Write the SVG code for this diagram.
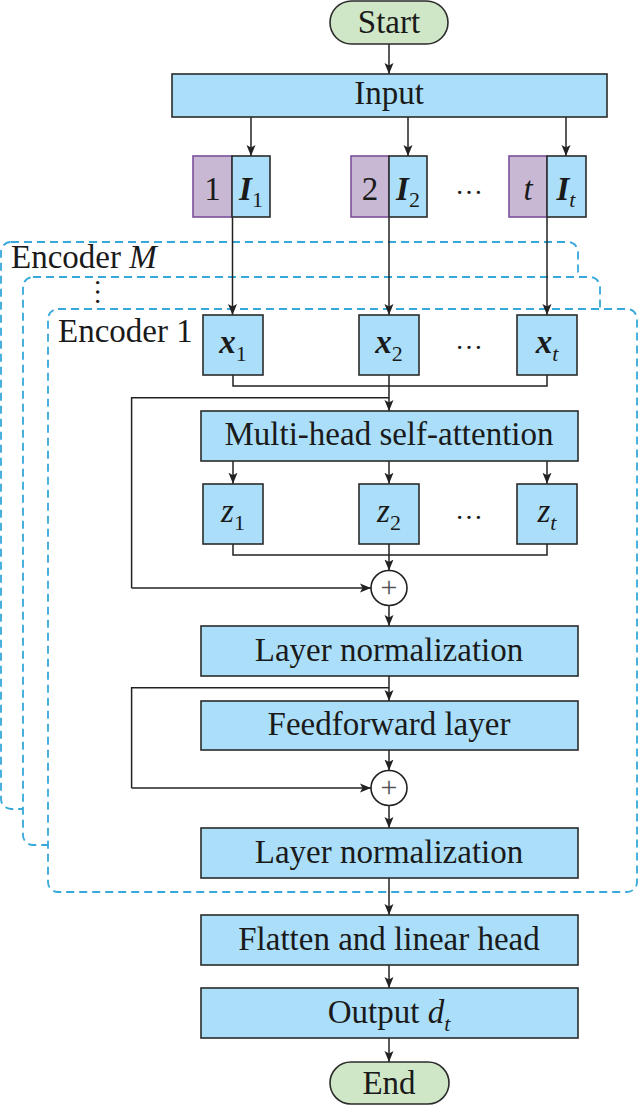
<svg xmlns="http://www.w3.org/2000/svg" width="639" height="1107" viewBox="0 0 639 1107">
<style>
text{font-family:"Liberation Serif","Times New Roman",serif;font-size:33px;fill:#1a1a1a}
.c{text-anchor:middle}
.blue{fill:#abdff9;stroke:#2b2b2b;stroke-width:1.6}
.pur{fill:#c9b8d4;stroke:#7a4f9c;stroke-width:1.6}
.green{fill:#cfe7c6;stroke:#2b2b2b;stroke-width:1.6}
.dash{fill:#fff;stroke:#36a8da;stroke-width:1.8;stroke-dasharray:8 5}
.ln{fill:none;stroke:#222;stroke-width:1.5}
.arr{fill:none;stroke:#222;stroke-width:1.5;marker-end:url(#ah)}
.sub{font-size:22px}
.bi{font-weight:bold;font-style:italic}
.it{font-style:italic}
.dots{font-size:28px}
</style>
<defs>
<marker id="ah" markerWidth="11" markerHeight="11" refX="11" refY="5" orient="auto" markerUnits="userSpaceOnUse">
<path d="M0,0.5 L11,5 L0,9.5 L2.5,5 z" fill="#222"/>
</marker>
</defs>

<g id="encoder-frames">
<rect class="dash" x="1" y="242" width="577" height="567" rx="10"/>
<rect class="dash" x="23" y="277" width="577" height="568" rx="10"/>
<rect class="dash" x="48" y="309" width="589" height="583" rx="10"/>
<text x="11" y="268">Encoder <tspan class="it">M</tspan></text>
<text x="96.7" y="292" class="dots" text-anchor="middle" transform="translate(8.5,0) rotate(90 96.7 292)" style="dominant-baseline:central">…</text>
<text x="58" y="342">Encoder 1</text>
</g>

<g id="connectors">
<path class="arr" d="M389,44 V74"/>
<path class="arr" d="M251,117 V156"/>
<path class="arr" d="M408,117 V156"/>
<path class="arr" d="M566,117 V156"/>
<path class="arr" d="M232.5,217 V315"/>
<path class="arr" d="M389,217 V315"/>
<path class="arr" d="M547,217 V315"/>
<path class="ln" d="M233,375 V386 H547 V375 M389,375 V386"/>
<path class="arr" d="M389,386 V411"/>
<path class="ln" d="M389,397.7 H131.6 V588"/>
<path class="arr" d="M131.6,588 H371"/>
<path class="arr" d="M233,461 V483.7"/>
<path class="arr" d="M389,461 V483.7"/>
<path class="arr" d="M547,461 V483.7"/>
<path class="ln" d="M233,544 V555 H547 V544 M389,544 V555"/>
<path class="arr" d="M389,555 V570.5"/>
<path class="arr" d="M389,605.5 V626"/>
<path class="arr" d="M389,676 V701"/>
<path class="ln" d="M389,687.7 H131.6 V788"/>
<path class="arr" d="M131.6,788 H371"/>
<path class="arr" d="M389,750 V770.5"/>
<path class="arr" d="M389,805.5 V828"/>
<path class="arr" d="M389,878 V915"/>
<path class="arr" d="M389,965 V988"/>
<path class="arr" d="M389,1038 V1062"/>
</g>

<g id="start">
<rect class="green" x="330" y="1" width="118" height="43" rx="21.5"/>
<text class="c" x="389" y="33">Start</text>
</g>

<g id="input">
<rect class="blue" x="172" y="74" width="435" height="43"/>
<text class="c" x="389" y="104">Input</text>
</g>

<g id="pair-1">
<rect class="pur" x="193" y="156" width="39" height="61"/>
<rect class="blue" x="232" y="156" width="38" height="61"/>
<text class="c" x="212.5" y="200">1</text>
<text class="c" x="251" y="200"><tspan class="bi">I</tspan><tspan class="sub" dy="7">1</tspan></text>
</g>
<g id="pair-2">
<rect class="pur" x="351" y="156" width="38" height="61"/>
<rect class="blue" x="389" y="156" width="38" height="61"/>
<text class="c" x="370" y="200">2</text>
<text class="c" x="408" y="200"><tspan class="bi">I</tspan><tspan class="sub" dy="7">2</tspan></text>
</g>
<text class="c dots" x="469" y="194">…</text>
<g id="pair-t">
<rect class="pur" x="509" y="156" width="38" height="61"/>
<rect class="blue" x="547" y="156" width="39" height="61"/>
<text class="c it" x="528" y="200">t</text>
<text class="c" x="566" y="200"><tspan class="bi">I</tspan><tspan class="sub it" dy="7">t</tspan></text>
</g>

<g id="x-1">
<rect class="blue" x="203" y="315" width="60" height="60"/>
<text class="c" x="233" y="353"><tspan class="bi">x</tspan><tspan class="sub" dy="8">1</tspan></text>
</g>
<g id="x-2">
<rect class="blue" x="359" y="315" width="60" height="60"/>
<text class="c" x="389" y="353"><tspan class="bi">x</tspan><tspan class="sub" dy="8">2</tspan></text>
</g>
<text class="c dots" x="469" y="349">…</text>
<g id="x-t">
<rect class="blue" x="517" y="315" width="60" height="60"/>
<text class="c" x="547" y="353"><tspan class="bi">x</tspan><tspan class="sub it" dy="8">t</tspan></text>
</g>

<g id="mhsa">
<rect class="blue" x="201" y="411" width="377" height="50"/>
<text class="c" x="389" y="445">Multi-head self-attention</text>
</g>

<g id="z-1">
<rect class="blue" x="203" y="484" width="60" height="60"/>
<text class="c" x="233" y="522"><tspan class="it">z</tspan><tspan class="sub" dy="8">1</tspan></text>
</g>
<g id="z-2">
<rect class="blue" x="359" y="484" width="60" height="60"/>
<text class="c" x="389" y="522"><tspan class="it">z</tspan><tspan class="sub" dy="8">2</tspan></text>
</g>
<text class="c dots" x="469" y="519">…</text>
<g id="z-t">
<rect class="blue" x="517" y="484" width="60" height="60"/>
<text class="c" x="547" y="522"><tspan class="it">z</tspan><tspan class="sub it" dy="8">t</tspan></text>
</g>

<g id="add-1">
<ellipse cx="389" cy="588" rx="18" ry="17.5" fill="#fff" stroke="#222" stroke-width="1.6"/>
<text class="c" x="389" y="597" style="font-size:30px;fill:#555">+</text>
</g>

<g id="layernorm-1">
<rect class="blue" x="201" y="626" width="377" height="50"/>
<text class="c" x="389" y="661">Layer normalization</text>
</g>

<g id="feedforward">
<rect class="blue" x="201" y="701" width="377" height="49"/>
<text class="c" x="389" y="735">Feedforward layer</text>
</g>

<g id="add-2">
<ellipse cx="389" cy="788" rx="18" ry="17.5" fill="#fff" stroke="#222" stroke-width="1.6"/>
<text class="c" x="389" y="797" style="font-size:30px;fill:#555">+</text>
</g>

<g id="layernorm-2">
<rect class="blue" x="201" y="828" width="377" height="50"/>
<text class="c" x="389" y="863">Layer normalization</text>
</g>

<g id="flatten">
<rect class="blue" x="201" y="915" width="377" height="50"/>
<text class="c" x="389" y="950">Flatten and linear head</text>
</g>

<g id="output">
<rect class="blue" x="201" y="988" width="377" height="50"/>
<text class="c" x="389" y="1023">Output <tspan class="it">d</tspan><tspan class="sub it" dy="8">t</tspan></text>
</g>

<g id="end">
<rect class="green" x="330" y="1062" width="119" height="42" rx="21"/>
<text class="c" x="389" y="1094">End</text>
</g>
</svg>
